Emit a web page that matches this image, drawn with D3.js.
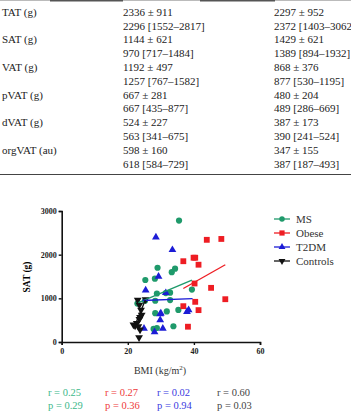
<!DOCTYPE html>
<html>
<head>
<meta charset="utf-8">
<script src="https://cdn.jsdelivr.net/npm/d3@7"></script>
<style>
  body { margin: 0; background: #fff; }
  svg { display: block; }
  .tbl { font-family: "Liberation Serif", "Times New Roman", serif; font-size: 11px; fill: #222; }
  .tick text { font-family: "Liberation Serif", serif; font-weight: bold; font-size: 8px; fill: #222; }
</style>
</head>
<body>
<svg id="chart"></svg>
<script>
const WIDTH = 351
const HEIGHT = 413

// table rows: label, col 1, col 2
const rowLabels = ["TAT (g)", "", "SAT (g)", "", "VAT (g)", "", "pVAT (g)", "", "dVAT (g)", "", "orgVAT (au)", ""]
const col1 = ["2336 \u00b1 911", "2296 [1552\u20132817]", "1144 \u00b1 621", "970 [717\u20131484]",
              "1192 \u00b1 497", "1257 [767\u20131582]", "667 \u00b1 281", "667 [435\u2013877]",
              "524 \u00b1 227", "563 [341\u2013675]", "598 \u00b1 160", "618 [584\u2013729]"]
const col2 = ["2297 \u00b1 952", "2372 [1403\u20133062", "1429 \u00b1 621", "1389 [894\u20131932]",
              "868 \u00b1 376", "877 [530\u20131195]", "480 \u00b1 204", "489 [286\u2013669]",
              "387 \u00b1 173", "390 [241\u2013524]", "347 \u00b1 155", "387 [187\u2013493]"]

// scatter data, BMI vs SAT
const msBMI  = [35.5, 29.0, 33.3, 34.3, 25.3, 28.2, 22.9, 28.8, 31.5, 32.8, 25.2, 28.3, 32.8, 28.3, 31.8, 35.3, 28.8, 33.8, 39.4, 27.8]
const msSAT  = [2780, 1700, 1600, 1680, 1420, 1450, 880, 1110, 1120, 1130, 945, 945, 960, 660, 700, 735, 320, 360, 1200, 300]
const obBMI  = [43.9, 48.3, 36.8, 39.9, 40.4, 41.4, 40.2, 45.2, 49.5, 36.8, 40.4, 41.4, 38.2]
const obSAT  = [2340, 2360, 1850, 1930, 1930, 1770, 1340, 1240, 980, 820, 920, 730, 350]
const t2BMI  = [28.5, 33.5, 29.3, 25.4, 31.5, 29.8, 29.8, 30.6, 24.9, 28.1, 38.4, 37.9, 30.0]
const t2SAT  = [2400, 2110, 1500, 1185, 1125, 640, 505, 310, 310, 230, 735, 695, 660]
const ctBMI  = [23.0, 23.5, 24.0, 24.2, 23.7, 23.5, 22.7, 22.2, 23.2, 21.7, 23.7, 25.4, 23.4]
const ctSAT  = [960, 850, 735, 620, 565, 520, 430, 370, 355, 395, 280, 975, 105]

// fitted lines [x0, y0, x1, y1]
const msFit = [23.2, 900, 39.4, 1415]
const obFit = [36.8, 1225, 49.5, 1770]
const t2Fit = [24.5, 950, 39.6, 995]
const ctFit = [21.9, 330, 25.3, 960]

const groups = ["MS", "Obese", "T2DM", "Controls"]
const colors = ["#1f9a6b", "#ee1d23", "#1c1cd6", "#111111"]
const statColors = ["#3db88a", "#ee3a3a", "#3a3ae0", "#444444"]
const rValues = ["r = 0.25", "r = 0.27", "r = 0.02", "r = 0.60"]
const pValues = ["p = 0.29", "p = 0.36", "p = 0.94", "p = 0.03"]

const xTicks = [0, 20, 40, 60]
const yTicks = [0, 1000, 2000, 3000]

const svg = d3.select("#chart").attr("width", WIDTH).attr("height", HEIGHT)

// ---- table ----
svg.append("line").attr("x1", 0).attr("x2", WIDTH).attr("y1", 0.5).attr("y2", 0.5)
    .attr("stroke", "#bbb").attr("stroke-width", 1)
svg.append("line").attr("x1", 50).attr("x2", 123).attr("y1", 0.8).attr("y2", 0.8)
    .attr("stroke", "#555").attr("stroke-width", 1.6)
svg.append("line").attr("x1", 200).attr("x2", 275).attr("y1", 0.8).attr("y2", 0.8)
    .attr("stroke", "#555").attr("stroke-width", 1.6)

const rowY = d3.scaleLinear().domain([0, 1]).range([15.8, 29.6])
const tbl = svg.append("g").attr("class", "tbl")
tbl.selectAll(".c0").data(rowLabels).enter().append("text")
    .attr("x", 2).attr("y", (d, i) => rowY(i)).text(d => d)
tbl.selectAll(".c1").data(col1).enter().append("text")
    .attr("x", 123).attr("y", (d, i) => rowY(i)).text(d => d)
tbl.selectAll(".c2").data(col2).enter().append("text")
    .attr("x", 274).attr("y", (d, i) => rowY(i)).text(d => d)

svg.append("line").attr("x1", 0).attr("x2", WIDTH).attr("y1", 174.5).attr("y2", 174.5)
    .attr("stroke", "#444").attr("stroke-width", 1.2)

// ---- scatter ----
const x = d3.scaleLinear().domain([0, 60]).range([61.7, 260])
const y = d3.scaleLinear().domain([0, 3000]).range([342, 211])

const xAxis = svg.append("g").attr("transform", "translate(0,342)")
    .call(d3.axisBottom(x).tickValues(xTicks).tickFormat(d3.format("d")).tickSize(3).tickPadding(3))
const yAxis = svg.append("g").attr("transform", "translate(61.7,0)")
    .call(d3.axisLeft(y).tickValues(yTicks).tickFormat(d3.format("d")).tickSize(3).tickPadding(2))
;[xAxis, yAxis].forEach(a => {
    a.select(".domain").attr("stroke", "#111").attr("stroke-width", 1.6)
    a.selectAll(".tick line").attr("stroke", "#111").attr("stroke-width", 1.4)
})

svg.append("text")
    .attr("transform", "translate(30,277) rotate(-90)")
    .attr("text-anchor", "middle")
    .attr("font-family", "Liberation Serif, serif").attr("font-weight", "bold").attr("font-size", 9.5)
    .text("SAT (g)")

const xl = svg.append("text").attr("x", 160).attr("y", 374).attr("text-anchor", "middle")
    .attr("font-family", "Liberation Serif, serif").attr("font-size", 10).attr("fill", "#333")
xl.append("tspan").text("BMI (kg/m")
xl.append("tspan").attr("dy", -4).attr("font-size", 7).text("2")
xl.append("tspan").attr("dy", 4).text(")")

const sym = [d3.symbolCircle, d3.symbolSquare, d3.symbolTriangle, d3.symbolTriangle]
const symSize = [30, 34, 26, 26]
const fits = [msFit, obFit, t2Fit, ctFit]
const series = [[msBMI, msSAT], [obBMI, obSAT], [t2BMI, t2SAT], [ctBMI, ctSAT]]

series.forEach((s, g) => {
    const pts = s[0].map((b, i) => ({ b: b, v: s[1][i] }))
    const gen = d3.symbol().type(sym[g]).size(symSize[g])
    svg.append("g").selectAll("path").data(pts).enter().append("path")
        .attr("d", gen)
        .attr("transform", d => `translate(${x(d.b)},${y(d.v)})` + (g === 3 ? " rotate(180)" : ""))
        .attr("fill", colors[g])
})

fits.forEach((f, g) => {
    svg.append("line")
        .attr("x1", x(f[0])).attr("y1", y(f[1]))
        .attr("x2", x(f[2])).attr("y2", y(f[3]))
        .attr("stroke", colors[g]).attr("stroke-width", 1.3)
})

// legend
const lg = svg.append("g")
groups.forEach((name, g) => {
    const ly = 219 + g * 14
    lg.append("line").attr("x1", 274).attr("x2", 290).attr("y1", ly).attr("y2", ly)
        .attr("stroke", colors[g]).attr("stroke-width", 1.3)
    lg.append("path")
        .attr("d", d3.symbol().type(sym[g]).size(symSize[g] * 0.8))
        .attr("transform", `translate(282,${ly})` + (g === 3 ? " rotate(180)" : ""))
        .attr("fill", colors[g])
    lg.append("text").attr("x", 296).attr("y", ly + 3.5)
        .attr("font-family", "Liberation Serif, serif").attr("font-size", 11).attr("fill", "#333")
        .text(name)
})

// stats
const statX = [48, 105, 157, 217]
statX.forEach((sx, g) => {
    svg.append("text").attr("x", sx).attr("y", 396)
        .attr("font-family", "Liberation Serif, serif").attr("font-size", 10.5).attr("fill", statColors[g])
        .text(rValues[g])
    svg.append("text").attr("x", sx).attr("y", 408.5)
        .attr("font-family", "Liberation Serif, serif").attr("font-size", 10.5).attr("fill", statColors[g])
        .text(pValues[g])
})
</script>
</body>
</html>
